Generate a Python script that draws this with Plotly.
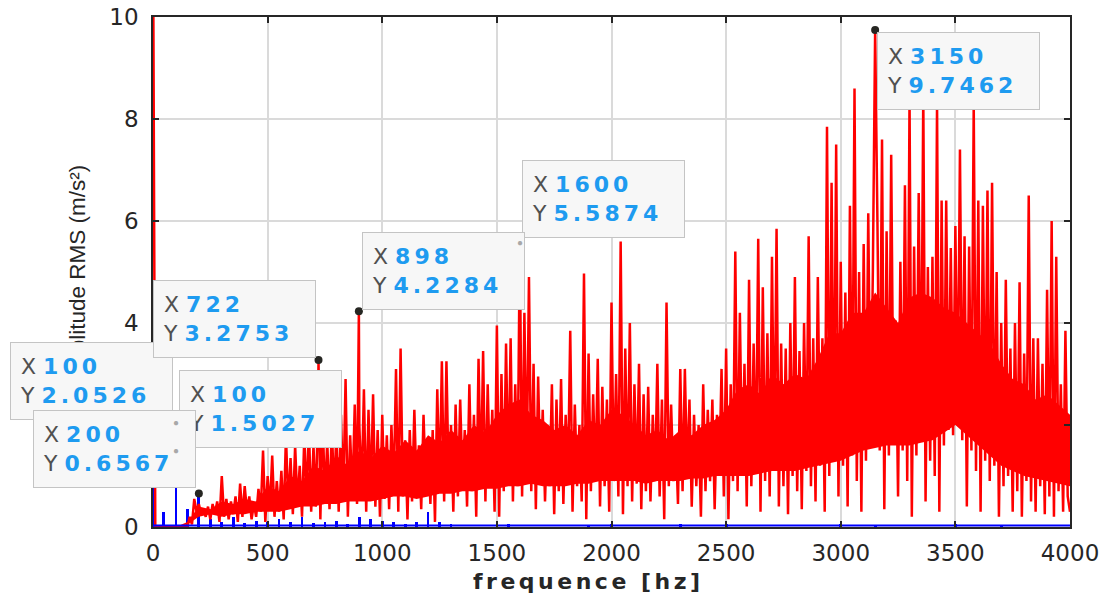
import plotly.graph_objects as go

# ---------------- data ----------------
# red spectrum: local maxima sampled every 20 Hz (f = 0, 20, ..., 4000)
red_high = [
    12, 0, 0, 0, 0, 0, 0, 0, 0.2, 0.55,
    0.45, 0.35, 0.4, 0.45, 0.5, 1.0, 0.55, 0.5, 0.6, 0.85,
    0.8, 0.6, 0.45, 0.75, 1.5, 1.0, 1.4, 0.9, 1.1, 1.8,
    1.35, 1.6, 1.2, 1.8, 2.0, 1.6, 2.4, 2.2, 1.7, 2.0,
    1.9, 2.2, 2.9, 1.8, 2.4, 2.0, 2.7, 2.3, 2.6, 1.9,
    2.2, 1.8, 2.0, 3.1, 3.5, 1.7, 1.9, 2.3, 1.6, 2.2,
    1.7, 1.9, 2.7, 3.25, 3.25, 2.0, 2.4, 2.5, 1.9, 2.8,
    2.2, 3.3, 3.45, 2.8, 2.3, 3.95, 3.0, 3.6, 3.7, 2.8,
    5.5874, 4.2, 4.9, 3.2, 2.95, 2.3, 2.0, 2.8, 2.5, 2.9,
    2.2, 3.85, 2.4, 2.0, 4.97, 3.4, 2.6, 3.3, 2.75, 2.5,
    4.4, 3.0, 5.6, 3.5, 4.0, 2.8, 3.2, 2.6, 2.75, 2.2,
    3.2, 2.5, 4.4, 2.4, 1.8, 3.1, 3.1, 2.5, 2.2, 2.0,
    2.8, 2.3, 2.5, 2.2, 3.1, 3.5, 2.8, 5.4, 4.2, 3.2,
    4.85, 3.6, 5.65, 4.7, 3.8, 5.3, 5.85, 3.6, 3.5, 4.0,
    4.9, 3.45, 4.0, 5.7, 3.7, 4.9, 3.7, 7.85, 6.75, 7.5,
    5.2, 4.6, 6.3, 8.6, 5.0, 5.55, 6.15, 5.0, 6.0, 7.6,
    5.8, 7.3, 4.05, 5.2, 6.7, 8.4, 5.5, 6.55, 8.5, 5.1,
    5.3, 8.3, 6.4, 6.4, 5.47, 5.9, 7.4, 5.7, 5.5, 8.3,
    6.4, 6.3, 6.6, 6.75, 5.0, 4.0, 4.85, 3.5, 4.0, 4.8,
    3.4, 6.5, 3.7, 3.7, 3.2, 4.65, 6.0, 5.3, 2.8, 3.85,
    0.3,
]
# red spectrum: local minima sampled every 20 Hz (f = 10, 30, ..., 3990)
red_low = [
    0, 0, 0, 0, 0, 0, 0, 0, 0.05, 0.3,
    0.25, 0.2, 0.15, 0.25, 0.1, 0.2, 0.15, 0.25, 0.1, 0.2,
    0.3, 0.15, 0.2, 0.3, 0.1, 0.35, 0.2, 0.3, 0.15, 0.4,
    0.25, 0.45, 0.2, 0.5, 0.3, 0.4, 0.15, 0.5, 0.35, 0.6,
    0.3, 0.55, 0.2, 0.6, 0.45, 0.7, 0.3, 0.6, 0.4, 0.2,
    0.55, 0.35, 0.7, 0.3, 0.6, 0.15, 0.5, 0.7, 0.35, 0.8,
    0.45, 0.1, 0.7, 0.5, 0.8, 0.3, 0.6, 0.9, 0.4, 0.7,
    0.2, 0.8, 0.5, 0.9, 0.3, 0.2, 0.7, 0.9, 0.5, 0.8,
    0.6, 1.0, 0.7, 0.35, 0.9, 0.5, 0.8, 0.25, 0.7, 0.45,
    0.9, 0.3, 0.8, 0.5, 0.15, 0.7, 0.9, 0.4, 0.8, 0.3,
    0.9, 0.6, 0.25, 0.8, 0.5, 0.85, 0.35, 0.7, 0.5, 0.9,
    0.6, 0.15, 0.8, 0.9, 0.45, 0.7, 1.0, 0.4, 0.8, 0.2,
    0.7, 0.9, 0.35, 1.0, 0.6, 0.15, 0.9, 0.7, 1.0, 0.4,
    0.8, 1.1, 0.3, 0.9, 0.6, 1.1, 0.4, 0.8, 0.25, 1.0,
    0.7, 0.35, 1.1, 0.8, 0.5, 1.2, 0.3, 1.0, 1.3, 0.6,
    1.2, 0.4, 1.4, 0.9, 0.3, 1.3, 1.6, 0.8, 1.5, 0.35,
    1.4, 1.8, 0.6, 1.5, 0.9, 0.2, 1.4, 1.7, 0.5, 1.3,
    1.0, 0.3, 1.6, 1.9, 1.8, 2.0, 1.7, 0.4, 1.5, 1.1,
    0.3, 1.3, 0.9, 1.2, 0.2, 0.8, 1.0, 0.3, 0.7, 0.2,
    0.9, 0.5, 0.3, 0.8, 0.25, 0.6, 0.2, 0.7, 0.3, 0.6,
]
# marked red peaks (datatips)
red_peak_f = [722, 898, 1600, 3150]
red_peak_v = [3.2753, 4.2284, 5.5874, 9.7462]

# dense core of the red spectrum (solid band), every 50 Hz, 0..4000
core_top = [0, 0, 0, 0.1, 0.4, 0.35, 0.5, 0.45, 0.55, 0.5,
            0.8, 0.7, 1.0, 0.9, 1.2, 1.1, 1.4, 1.2, 1.5, 1.35,
            1.6, 1.45, 1.7, 1.5, 1.8, 1.65, 1.9, 1.7, 2.0, 1.85,
            2.2, 2.4, 2.5, 2.2, 2.1, 1.9, 2.0, 1.8, 2.1, 2.0,
            2.3, 2.2, 2.0, 1.8, 1.9, 1.7, 1.9, 1.8, 2.0, 2.1,
            2.3, 2.7, 2.8, 2.6, 3.0, 2.8, 3.0, 2.9, 3.3, 3.8,
            3.8, 4.2, 4.2, 4.6, 4.3, 4.0, 4.5, 4.6, 4.5, 4.3,
            4.2, 4.0, 3.8, 3.6, 3.2, 2.9, 2.8, 2.5, 2.6, 2.4,
            2.2]
core_bot = [0, 0, 0, 0.05, 0.2, 0.25, 0.2, 0.25, 0.25, 0.3,
            0.3, 0.3, 0.35, 0.4, 0.4, 0.45, 0.45, 0.5, 0.5, 0.5,
            0.55, 0.6, 0.6, 0.55, 0.6, 0.65, 0.65, 0.7, 0.7, 0.75,
            0.75, 0.8, 0.8, 0.85, 0.8, 0.8, 0.8, 0.85, 0.85, 0.9,
            0.9, 0.9, 0.9, 0.85, 0.9, 0.9, 0.9, 0.95, 0.95, 1.0,
            1.0, 1.0, 1.0, 1.05, 1.1, 1.1, 1.1, 1.15, 1.2, 1.25,
            1.3, 1.4, 1.5, 1.55, 1.6, 1.6, 1.6, 1.65, 1.7, 1.85,
            2.0, 1.8, 1.6, 1.4, 1.2, 1.1, 1.0, 0.95, 0.9, 0.85,
            0.8]

# blue spectrum: harmonic lines
blue_f = [0, 45, 100, 150, 200, 250, 300, 350, 400, 450, 500, 550, 600, 650, 700,
          750, 800, 850, 900, 950, 1000, 1050, 1100, 1150, 1200, 1250, 1300,
          1500, 1550, 1900, 2000, 2300, 2500, 3000, 3150, 3500, 3700]
blue_v = [2.0, 0.3, 2.0526, 0.35, 0.6567, 0.15, 0.1, 0.2, 0.08, 0.12, 0.1, 0.15, 0.1, 0.2, 0.08,
          0.1, 0.12, 0.06, 0.2, 0.15, 0.12, 0.1, 0.06, 0.1, 0.3, 0.1, 0.06,
          0.05, 0.05, 0.04, 0.05, 0.06, 0.05, 0.05, 0.04, 0.05, 0.04]
blue_floor_f = [0, 1000, 2000, 3000, 4000]
blue_floor_v = [0.03, 0.03, 0.03, 0.03, 0.03]

# datatips
tip_f = [3150, 1600, 898, 100, 722, 100, 200]
tip_v = [9.7462, 5.5874, 4.2284, 2.0526, 3.2753, 1.5027, 0.6567]
tip_hidden = [False, True, False, True, False, True, False]
# box top-left corners, as fractions of the plot area
tip_box_x = [0.7895, 0.4024, 0.2279, -0.1559, 0.0, 0.0284, -0.1309]
tip_box_y = [0.9706, 0.7196, 0.5784, 0.3627, 0.4843, 0.3078, 0.2294]

x_ticks = [0, 500, 1000, 1500, 2000, 2500, 3000, 3500, 4000]
y_ticks = [0, 2, 4, 6, 8, 10]

# ---------------- build red series ----------------
pts = {}
for i, v in enumerate(red_high):
    pts[i * 20] = v
for i, v in enumerate(red_low):
    pts[10 + i * 20] = v
for f, v in zip(red_peak_f, red_peak_v):
    pts[f] = v
red_f = sorted(pts)
red_v = [pts[f] for f in red_f]
core_f = [i * 50 for i in range(len(core_top))]

RED = "#ff0000"
BLUE = "#0000ff"
fig = go.Figure()
fig.add_trace(go.Scatter(x=core_f, y=core_bot, mode="lines", line=dict(width=0, color=RED),
                         showlegend=False, hoverinfo="skip"))
fig.add_trace(go.Scatter(x=core_f, y=core_top, mode="lines", line=dict(width=0, color=RED),
                         fill="tonexty", fillcolor=RED, showlegend=False, hoverinfo="skip"))
fig.add_trace(go.Scatter(x=red_f, y=red_v, mode="lines",
                         line=dict(color=RED, width=2.5), showlegend=False))
fig.add_trace(go.Bar(x=blue_f, y=blue_v, width=12, marker=dict(color=BLUE, line=dict(width=0)),
                     showlegend=False))
fig.add_trace(go.Scatter(x=blue_floor_f, y=blue_floor_v, mode="lines",
                         line=dict(color=BLUE, width=2), showlegend=False))
fig.add_trace(go.Scatter(x=tip_f, y=tip_v, mode="markers", cliponaxis=False,
                         marker=dict(color="#262622", size=8), showlegend=False))

LS = "letter-spacing:4px"
annotations = [
    dict(text="Amplitude RMS (m/s²)", xref="paper", yref="paper", x=-0.0829, y=0.494,
         textangle=-90, showarrow=False, xanchor="center", yanchor="middle",
         font=dict(family="Liberation Sans, Arial", size=22.5, color="#262626")),
    dict(text="<b><span style='letter-spacing:3.5px'>frequence [hz]</span></b>",
         xref="paper", yref="paper", x=0.4744, y=-0.1078, showarrow=False,
         xanchor="center", yanchor="middle",
         font=dict(family="DejaVu Sans", size=22, color="#262626")),
]
for f, v, bx, by in zip(tip_f, tip_v, tip_box_x, tip_box_y):
    txt = (f"<span style='color:#505050'>X</span> <b><span style='color:#1e9bf0;{LS}'>{f}</span></b><br>"
           f"<span style='color:#505050'>Y</span> <b><span style='color:#1e9bf0;{LS}'>{v:.4f}</span></b>")
    annotations.append(dict(text=txt, xref="paper", yref="paper", x=bx, y=by,
                            xanchor="left", yanchor="top",
                            showarrow=False, align="left", valign="middle", width=143, height=58,
                            bgcolor="#f7f7f7", bordercolor="#c4c4c4", borderwidth=1, borderpad=9,
                            font=dict(family="DejaVu Sans", size=22, color="#1e9bf0")))
for f, v, h in zip(tip_f, tip_v, tip_hidden):
    if h:
        annotations.append(dict(text="●", xref="x", yref="y", x=f, y=v, showarrow=False,
                                xanchor="center", yanchor="middle",
                                font=dict(size=10, color="#a8a8a8")))

axis_common = dict(showline=True, linecolor="#262626", linewidth=1.5, mirror="ticks",
                   ticks="inside", ticklen=6, tickcolor="#262626", tickwidth=1.5,
                   showgrid=True, gridcolor="#dadada", gridwidth=1.5, zeroline=False,
                   automargin=False,
                   tickfont=dict(family="DejaVu Sans", size=23, color="#262626"))
fig.update_layout(
    width=1114, height=601,
    margin=dict(l=153, r=44, t=17, b=74),
    paper_bgcolor="white", plot_bgcolor="white",
    xaxis=dict(range=[0, 4000], tickmode="array", tickvals=x_ticks,
               ticktext=[str(t) for t in x_ticks], ticklabelstandoff=5, **axis_common),
    yaxis=dict(range=[0, 10], tickmode="array", tickvals=y_ticks,
               ticktext=[str(t) for t in y_ticks], ticklabelstandoff=8, **axis_common),
    annotations=annotations,
    bargap=0,
)
fig.write_html("out.html")
